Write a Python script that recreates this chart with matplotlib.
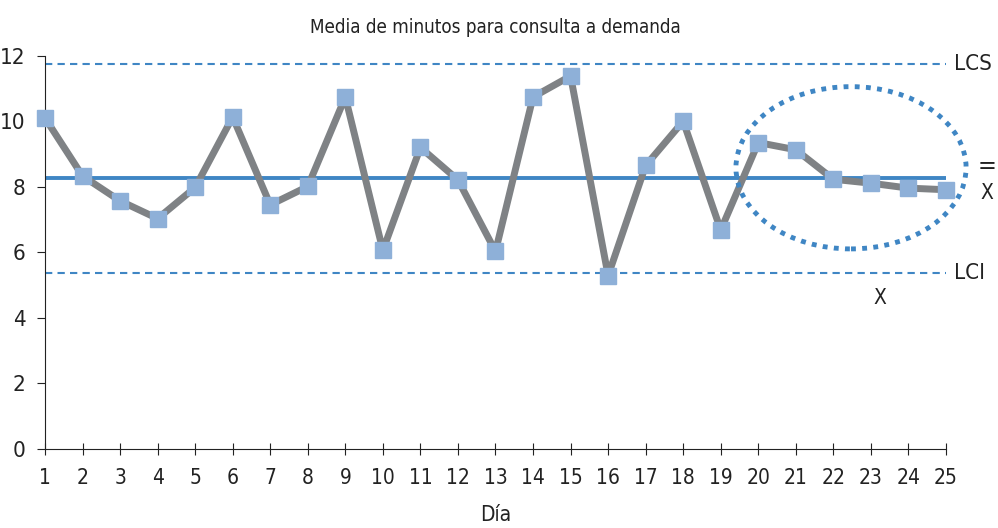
import matplotlib
matplotlib.use("Agg")
import matplotlib.pyplot as plt
from matplotlib.patches import Ellipse

plt.rcParams['font.family'] = ['DejaVu Sans']
plt.rcParams['font.stretch'] = 'condensed'

dias = list(range(1, 26))
minutos = [10.1, 8.33, 7.57, 7.03, 7.98, 10.13, 7.45, 8.01, 10.74, 6.06,
           9.2, 8.21, 6.03, 10.74, 11.38, 5.29, 8.65, 10.0, 6.68, 9.35,
           9.13, 8.23, 8.11, 7.96, 7.91]
media = 8.28
lcs = 11.74
lci = 5.37

fig = plt.figure(figsize=(9.98, 5.28), dpi=100)
ax = fig.add_axes([45/998, 1 - 449/528, 901/998, (449 - 55.7)/528])

ax.plot(dias, minutos, color='#7f8285', lw=5, zorder=3, clip_on=False,
        marker='s', ms=11.5, mfc='#8eb0d8', mec='#8eb0d8')
ax.plot([dias[0], dias[-1]], [media, media], color='#3f86c4', lw=2.8, zorder=2)
ax.plot([dias[0], dias[-1]], [lcs, lcs], color='#3f86c4', lw=1.5, ls=(0, (3.5, 2.5)))
ax.plot([dias[0], dias[-1]], [lci, lci], color='#3f86c4', lw=1.5, ls=(0, (3.5, 2.5)))

# zona marcada al final
elip = Ellipse((22.47, 8.58), 6.13, 4.95, fill=False, ec='#3f86c4',
               lw=3.5, ls=(0, (1.0, 1.3)), zorder=4, clip_on=False)
ax.add_patch(elip)

ax.text(25.2, lcs, 'LCS', fontsize=16, va='center', ha='left', color='#222222')
ax.text(25.2, lci, 'LCI', fontsize=16, va='center', ha='left', color='#222222')
ax.text(26.1, 8.62, '=', fontsize=18, va='center', ha='center', color='#222222')
ax.text(26.1, 7.8, 'X', fontsize=15, va='center', ha='center', color='#222222')
ax.text(23.24, 4.62, 'X', fontsize=15, va='center', ha='center', color='#222222')

ax.set_xlim(1, 25)
ax.set_ylim(0, 12)
ax.set_xticks(dias)
ax.set_yticks(range(0, 13, 2))
ax.spines['top'].set_visible(False)
ax.spines['right'].set_visible(False)
ax.spines['left'].set_color('#222222')
ax.spines['bottom'].set_color('#222222')
ax.tick_params(axis='x', direction='inout', length=8, pad=10, labelsize=15, colors='#222222')
ax.tick_params(axis='y', direction='out', length=6, pad=8, labelsize=16, colors='#222222')

ax.set_title('Media de minutos para consulta a demanda', fontsize=13.5, pad=16, color='#222222')
ax.set_xlabel('Día', fontsize=15, labelpad=12, color='#222222')

fig.savefig('out.png', dpi=100)
